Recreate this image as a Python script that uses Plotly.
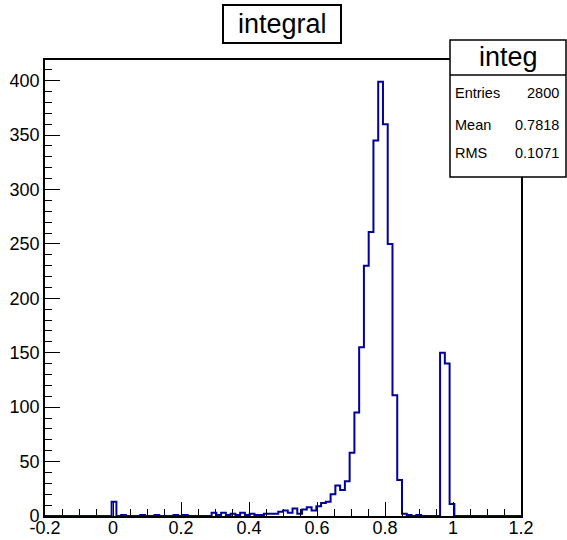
import plotly.graph_objects as go
import numpy as np

# ---- data ----
hist_title = "integral"
stats_name = "integ"
stats_labels = ["Entries", "Mean", "RMS"]
stats_values = ["2800", "0.7818", "0.1071"]

x_min, x_max, n_bins = -0.2, 1.2, 100
# bin contents, index 0..99
counts = [0] * 100
nonzero = {
    14: 13, 16: 1, 20: 1, 23: 1, 27: 1, 29: 1,
    35: 3, 36: 1, 37: 3, 38: 1, 39: 2, 40: 1, 41: 3, 42: 1, 43: 2, 44: 1,
    45: 1, 46: 2, 47: 2, 48: 2, 49: 4, 50: 5, 51: 3, 52: 7, 53: 2, 54: 6,
    55: 8, 56: 5, 57: 9, 58: 12, 59: 13, 60: 20, 61: 28, 62: 24, 63: 32,
    64: 58, 65: 95, 66: 155, 67: 230, 68: 261, 69: 345, 70: 399, 71: 360,
    72: 250, 73: 111, 74: 33, 75: 2, 76: 1, 78: 1,
    83: 150, 84: 140, 85: 11,
}
for k, v in nonzero.items():
    counts[k] = v

x_tickvals = [-0.2, 0, 0.2, 0.4, 0.6, 0.8, 1.0, 1.2]
x_ticktext = ["-0.2", "0", "0.2", "0.4", "0.6", "0.8", "1", "1.2"]
y_tickvals = [0, 50, 100, 150, 200, 250, 300, 350, 400]
y_ticktext = ["0", "50", "100", "150", "200", "250", "300", "350", "400"]

# ---- layout geometry ----
W, H = 567, 540
L, R, T, B = 45, 521, 60, 516
FONT = "Liberation Sans, Arial, Helvetica, sans-serif"
LINE_COLOR = "#00009c"

bw = (x_max - x_min) / n_bins
edges = x_min + bw * np.arange(n_bins + 1)
yvals = counts + [counts[-1]]
ymax = 1.05 * max(counts)

def px(xp):
    return (xp - L) / (R - L)

def py(yp):
    return (B - yp) / (B - T)

fig = go.Figure()
fig.add_trace(go.Scatter(
    x=edges, y=yvals, mode="lines", line_shape="hv",
    line=dict(color=LINE_COLOR, width=2), cliponaxis=False,
    hoverinfo="skip", showlegend=False,
))

axis_common = dict(
    showline=True, linecolor="black", linewidth=1.6, mirror=True,
    ticks="inside", tickcolor="black", tickwidth=1.3,
    showgrid=False, zeroline=False, automargin=False,
    tickfont=dict(family=FONT, size=18, color="black"),
)
fig.update_xaxes(
    range=[x_min, x_max], tickvals=x_tickvals, ticktext=x_ticktext,
    ticklen=14, ticklabelstandoff=-5,
    minor=dict(dtick=0.05, tick0=0, ticks="inside", ticklen=7,
               tickcolor="black", tickwidth=1.3),
    **axis_common,
)
fig.update_yaxes(
    range=[0, ymax], tickvals=y_tickvals, ticktext=y_ticktext,
    ticklen=15, minor=dict(dtick=10, tick0=0, ticks="inside", ticklen=7,
                           tickcolor="black", tickwidth=1.3),
    **axis_common,
)

shapes = []
annotations = []
# title box
shapes.append(dict(type="rect", xref="paper", yref="paper",
                   x0=px(223), x1=px(341), y0=py(43), y1=py(5),
                   line=dict(color="black", width=2), fillcolor="white",
                   layer="above"))
annotations.append(dict(xref="paper", yref="paper", x=px(282), y=py(24),
                        text=hist_title, showarrow=False,
                        xanchor="center", yanchor="middle",
                        font=dict(family=FONT, size=27, color="black")))
# stats box
sx0, sx1, sy0, sy1, sdiv = 450, 566, 40, 177, 75
shapes.append(dict(type="rect", xref="paper", yref="paper",
                   x0=px(sx0), x1=px(sx1), y0=py(sy1), y1=py(sy0),
                   line=dict(color="black", width=1.5), fillcolor="white",
                   layer="above"))
shapes.append(dict(type="line", xref="paper", yref="paper",
                   x0=px(sx0), x1=px(sx1), y0=py(sdiv), y1=py(sdiv),
                   line=dict(color="black", width=1.5), layer="above"))
annotations.append(dict(xref="paper", yref="paper", x=px((sx0 + sx1) / 2),
                        y=py(57), text=stats_name, showarrow=False,
                        xanchor="center", yanchor="middle",
                        font=dict(family=FONT, size=27, color="black")))
row_y = [93, 125, 153]
for lab, val, yy in zip(stats_labels, stats_values, row_y):
    annotations.append(dict(xref="paper", yref="paper", x=px(453), y=py(yy),
                            text=lab, showarrow=False, xanchor="left",
                            yanchor="middle",
                            font=dict(family=FONT, size=14.5, color="black")))
    annotations.append(dict(xref="paper", yref="paper", x=px(561), y=py(yy),
                            text=val, showarrow=False, xanchor="right",
                            yanchor="middle",
                            font=dict(family=FONT, size=14.5, color="black")))

fig.update_layout(
    width=W, height=H,
    margin=dict(l=L, r=W - R, t=T, b=H - B, pad=0, autoexpand=False),
    paper_bgcolor="white", plot_bgcolor="white",
    shapes=shapes, annotations=annotations,
    showlegend=False,
)
fig.write_html(
    "out.html",
    config={"displayModeBar": False},
    post_script="document.body.style.margin='0';document.body.style.overflow='hidden';",
)
